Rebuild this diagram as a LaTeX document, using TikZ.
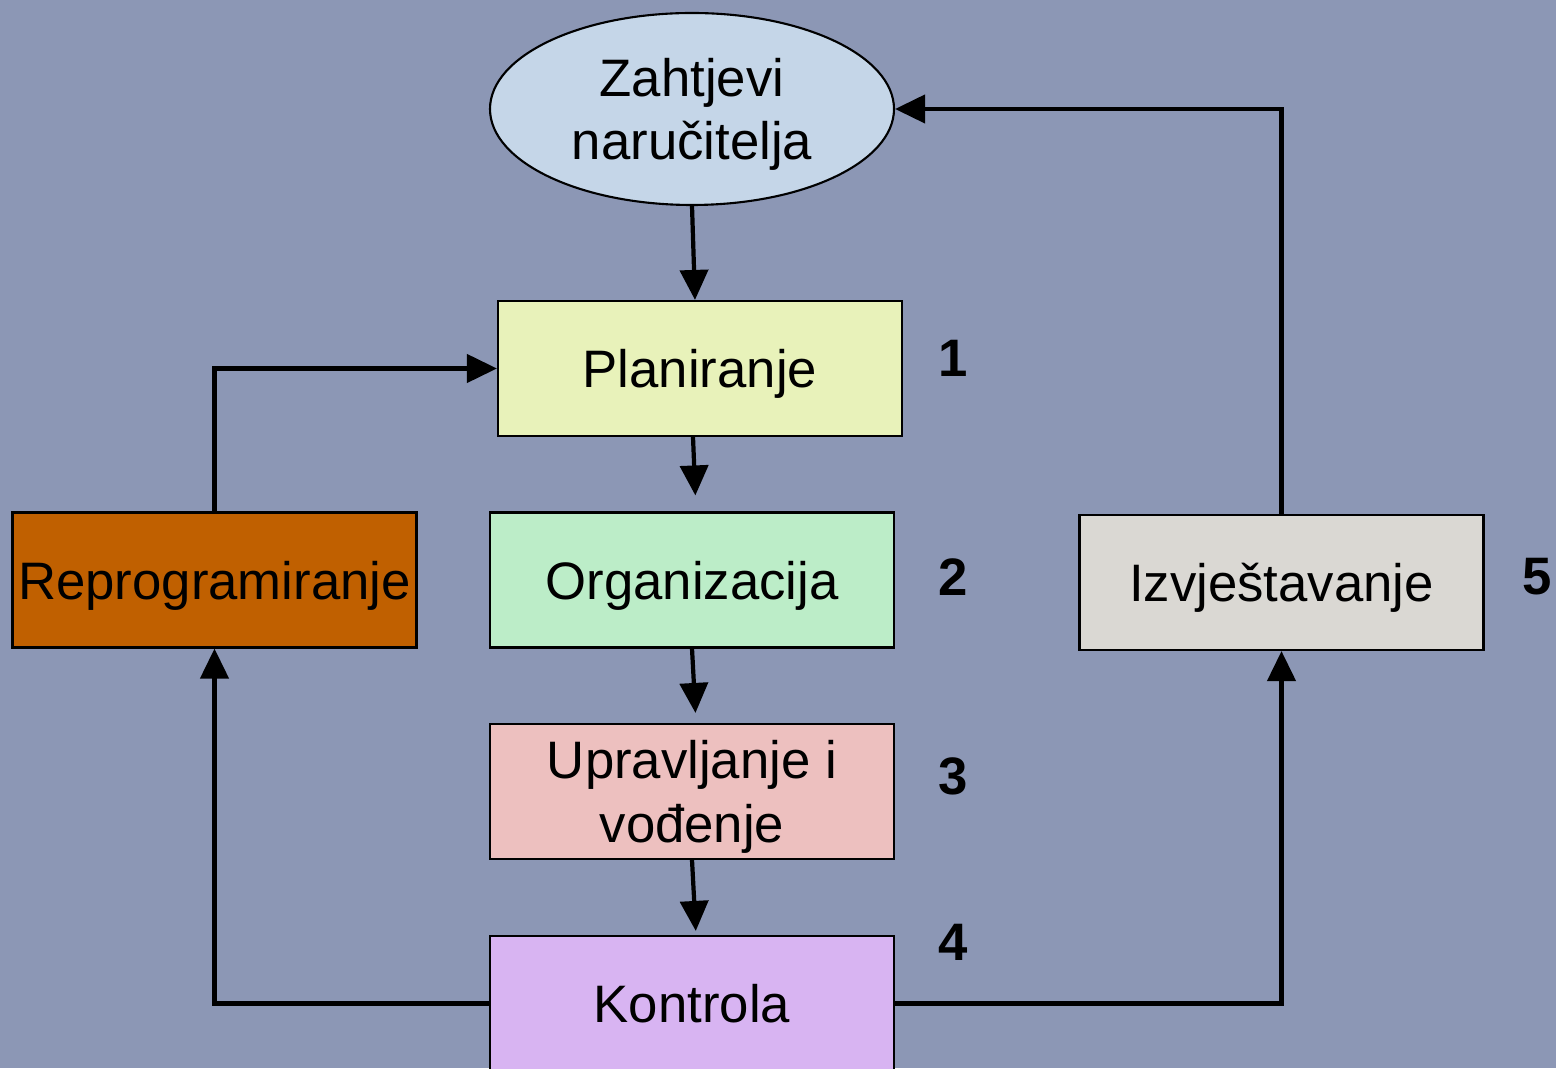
\documentclass[tikz,border=0pt]{standalone}
\usepackage{fontspec}
\setmainfont{Liberation Sans}
\usepackage{xcolor}
\usetikzlibrary{arrows.meta, shapes.geometric}

\definecolor{bgcol}{RGB}{140,151,181}
\definecolor{zahtjevcol}{RGB}{197,214,232}
\definecolor{plancol}{RGB}{232,242,186}
\definecolor{orgcol}{RGB}{188,237,200}
\definecolor{upravcol}{RGB}{237,192,191}
\definecolor{kontrolcol}{RGB}{216,180,242}
\definecolor{reprogcol}{RGB}{192,96,0}
\definecolor{izvjcol}{RGB}{218,216,211}

\tikzset{
    txt/.style={font=\fontsize{15}{18}\selectfont, align=center, text depth=0pt},
    phasebox/.style={txt, draw=black, line width=0.6pt, minimum width=4.04cm, minimum height=1.35cm, inner sep=0pt},
    numlabel/.style={font=\fontsize{15}{18}\selectfont\bfseries},
    arr/.style={-{Triangle[width=0.28cm, length=0.3cm]}, line width=1.2pt}
}

\begin{document}
\begin{tikzpicture}
    % Background and size
    \clip (0,0) rectangle (15.56,10.68);
    \fill[bgcol] (0,0) rectangle (15.56,10.68);

    % Client requirements
    \node[ellipse, txt, draw=black, line width=0.6pt, fill=zahtjevcol, minimum width=4.04cm, minimum height=1.92cm, inner sep=0pt] (Zahtjevi) at (6.92,9.59) {Zahtjevi\\naručitelja};

    % Phase boxes
    \node[phasebox, fill=plancol] (Planiranje) at (7.00,6.995) {Planiranje};
    \node[phasebox, fill=orgcol] (Organizacija) at (6.92,4.88) {Organizacija};
    \node[phasebox, fill=upravcol] (Upravljanje) at (6.92,2.765) {Upravljanje i\\vođenje};
    \node[phasebox, fill=kontrolcol] (Kontrola) at (6.92,0.645) {Kontrola};
    \node[phasebox, fill=reprogcol] (Reprogramiranje) at (2.145,4.88) {Reprogramiranje};
    \node[phasebox, fill=izvjcol] (Izvjestavanje) at (12.815,4.855) {Izvještavanje};

    % Step numbers
    \node[numlabel] (n1) at (9.53,7.10) {1};
    \node[numlabel] (n2) at (9.53,4.91) {2};
    \node[numlabel] (n3) at (9.53,2.92) {3};
    \node[numlabel] (n4) at (9.53,1.26) {4};
    \node[numlabel] (n5) at (15.37,4.91) {5};

    % Main flow downwards
    \draw[arr] (Zahtjevi.south) -- ([xshift=-0.05cm]Planiranje.north);
    \draw[arr, shorten >=0.16cm] ([xshift=-0.07cm]Planiranje.south) -- ([xshift=0.04cm]Organizacija.north);
    \draw[arr, shorten >=0.1cm] (Organizacija.south) -- ([xshift=0.04cm]Upravljanje.north);
    \draw[arr, shorten >=0.04cm] (Upravljanje.south) -- ([xshift=0.04cm]Kontrola.north);

    % Feedback loops
    \draw[arr] (Kontrola.west) -| (Reprogramiranje.south);
    \draw[arr] (Reprogramiranje.north) |- (Planiranje.west);
    \draw[arr] (Kontrola.east) -| (Izvjestavanje.south);
    \draw[arr] (Izvjestavanje.north) |- (Zahtjevi.east);
\end{tikzpicture}
\end{document}
